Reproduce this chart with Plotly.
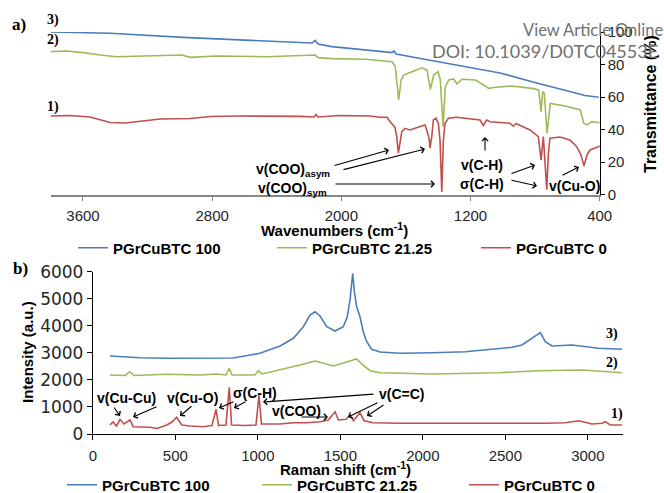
import plotly.graph_objects as go

W, H = 664, 493

# ---------------- (a) FTIR data ----------------
ftir_wn_100 = [3800, 3432, 2980, 2565, 2181, 2163, 2144, 2058, 1686, 1674, 1661, 1451, 1232, 1017, 819, 613, 491, 406]
ftir_t_100 = [100.0, 99.2, 96.7, 95.1, 93.2, 94.8, 92.6, 91.0, 87.3, 88.3, 86.5, 82.6, 78.6, 74.8, 69.4, 63.9, 60.9, 59.8]

ftir_wn_2125 = [3800, 3700, 3598, 3494, 3391, 3185, 2988, 2937, 2772, 2462,
                2163, 2142, 2060, 1851, 1686, 1666, 1645, 1630, 1614, 1562,
                1500, 1469, 1449, 1428, 1401, 1387, 1370, 1356, 1335, 1304,
                1284, 1253, 1170, 1118, 1087, 1046, 943, 819, 778, 763,
                753, 743, 726, 706, 613, 520, 499, 479, 448, 406, 400]
ftir_t_2125 = [87.9, 88.3, 87.3, 85.8, 84.8, 85.2, 85.8, 84.4, 85.2, 84.8,
               85.8, 84.2, 83.6, 83.2, 81.7, 78.6, 58.2, 70.5, 73.5, 75.6,
               78.0, 76.6, 64.7, 73.5, 75.6, 70.5, 41.7, 66.3, 70.5, 71.1,
               68.0, 70.9, 70.5, 67.4, 65.3, 66.0, 66.8, 65.3, 64.3, 51.0,
               63.3, 62.3, 37.7, 56.1, 54.5, 52.0, 43.8, 42.8, 44.8, 44.2, 44.5]

ftir_wn_0 = [3800, 3680, 3556, 3494, 3432, 3339, 3246, 3122, 2937, 2812,
             2627, 2441, 2256, 2169, 2157, 2145, 2008, 1822, 1760, 1717,
             1698, 1668, 1657, 1647, 1637, 1626, 1606, 1575, 1544, 1513,
             1482, 1471, 1457, 1451, 1440, 1430, 1414, 1399, 1389, 1378,
             1368, 1358, 1337, 1285, 1224, 1141, 1121, 1100, 1079, 1017,
             955, 935, 918, 832, 780, 763, 749, 728, 718, 708,
             646, 584, 542, 516, 497, 479, 460, 429, 408, 400]
ftir_t_0 = [48.3, 48.6, 47.7, 46.2, 44.3, 44.0, 45.2, 46.5, 46.8, 48.0,
            48.3, 48.3, 48.1, 47.7, 49.2, 47.7, 48.6, 48.3, 47.5, 47.5,
            44.8, 41.4, 35.6, 25.5, 33.5, 38.6, 40.7, 39.7, 40.7, 41.7,
            42.8, 39.7, 34.6, 28.5, 35.6, 45.8, 46.9, 43.8, 33.5, 1.5,
            33.5, 43.8, 46.9, 47.5, 46.9, 45.8, 42.5, 45.8, 44.8, 44.3,
            43.8, 42.0, 43.7, 39.7, 35.6, 21.2, 35.6, 3.0, 25.0, 34.6,
            35.4, 33.5, 29.4, 24.3, 17.5, 24.3, 27.4, 28.6, 29.4, 30.2]

ftir_ticks = [3600, 2800, 2000, 1200, 400]

# ---------------- (b) Raman data ----------------
raman_rs_100 = [104, 286, 448, 650, 850, 1013, 1135, 1215, 1276, 1316,
                1347, 1377, 1418, 1468, 1518, 1542, 1559, 1575, 1585, 1599,
                1619, 1639, 1660, 1690, 1741, 1862, 1983, 2056, 2258, 2419,
                2541, 2601, 2661, 2712, 2742, 2783, 2904, 2985, 3066, 3207]
raman_i_100 = [2884, 2821, 2798, 2791, 2810, 2983, 3253, 3538, 3967, 4399,
               4521, 4362, 3967, 3808, 3967, 4336, 4954, 5941, 5261, 4706,
               4336, 3782, 3412, 3131, 3031, 2983, 2983, 3006, 3043, 3131,
               3205, 3290, 3536, 3746, 3413, 3253, 3290, 3228, 3168, 3131]

raman_rs_2125 = [104, 195, 225, 250, 448, 650, 751, 807, 827, 844,
                 983, 1003, 1025, 1135, 1256, 1347, 1418, 1458, 1498, 1569,
                 1599, 1630, 1680, 1741, 1983, 2056, 2460, 2702, 2965, 3207]
raman_i_2125 = [2181, 2163, 2303, 2163, 2207, 2181, 2218, 2181, 2429, 2181,
                2181, 2340, 2220, 2366, 2551, 2699, 2588, 2514, 2588, 2699,
                2773, 2588, 2340, 2266, 2244, 2218, 2266, 2340, 2366, 2266]

raman_rs_0 = [104, 122, 144, 165, 189, 225, 245, 286, 347, 389,
              448, 480, 508, 539, 589, 668, 722, 747, 762, 807,
              827, 841, 922, 989, 1007, 1022, 1135, 1215, 1296, 1377,
              1427, 1468, 1488, 1535, 1559, 1579, 1619, 1644, 1700, 1862,
              2056, 2460, 2742, 2864, 2945, 3025, 3086, 3106, 3136, 3207]
raman_i_0 = [333, 444, 296, 543, 370, 518, 270, 259, 248, 203,
             333, 444, 617, 333, 296, 270, 314, 913, 314, 333,
             1726, 333, 314, 333, 1442, 370, 370, 418, 418, 455,
             518, 824, 518, 543, 702, 492, 787, 492, 418, 395,
             395, 370, 395, 418, 492, 370, 395, 455, 333, 333]

series_names = ["PGrCuBTC 100", "PGrCuBTC 21.25", "PGrCuBTC 0"]
series_colors = ["#4A7EBB", "#9BBB59", "#C0504D"]

SANS = "Liberation Sans, Arial, sans-serif"
SERIF = "Liberation Serif, Times New Roman, serif"


def PX(x):
    return x / W


def PY(y):
    return 1 - y / H


fig = go.Figure()

ftir_sets = [(ftir_wn_100, ftir_t_100), (ftir_wn_2125, ftir_t_2125), (ftir_wn_0, ftir_t_0)]
raman_sets = [(raman_rs_100, raman_i_100), (raman_rs_2125, raman_i_2125), (raman_rs_0, raman_i_0)]

for i, (xs, ys) in enumerate(ftir_sets):
    fig.add_trace(go.Scatter(x=xs, y=ys, mode="lines", name=series_names[i],
                             line=dict(color=series_colors[i], width=1.6),
                             xaxis="x", yaxis="y", showlegend=True,
                             legend="legend" if i == 0 else f"legend{i + 1}"))
for i, (xs, ys) in enumerate(raman_sets):
    fig.add_trace(go.Scatter(x=xs, y=ys, mode="lines", name=series_names[i],
                             line=dict(color=series_colors[i], width=1.6),
                             xaxis="x2", yaxis="y2", showlegend=True,
                             legend=f"legend{i + 4}"))

legend_font = dict(family=SANS, size=15, color="#000000", weight="bold")


def leg(text_x, y):
    return dict(x=PX(text_x - 40), y=PY(y), xanchor="left", yanchor="middle",
                orientation="h", bgcolor="rgba(0,0,0,0)", borderwidth=0,
                font=legend_font, itemwidth=30, visible=True)


tickfont = dict(family=SANS, size=15, color="#262626")
axcommon = dict(showgrid=False, zeroline=False, showline=True, ticks="outside",
                tickfont=tickfont, fixedrange=True)

fig.update_layout(
    width=W, height=H, margin=dict(l=0, r=0, t=0, b=0, pad=0, autoexpand=False),
    paper_bgcolor="white", plot_bgcolor="white", showlegend=True,
    xaxis=dict(axcommon, domain=[PX(50.7), PX(599.7)], range=[3800, 400],
               tickvals=ftir_ticks, anchor="y", linecolor="#868686", linewidth=1.5,
               tickcolor="#868686", ticklen=5, ticklabelstandoff=2),
    yaxis=dict(axcommon, domain=[PY(194.5), PY(32)], range=[0, 100], dtick=20,
               side="right", anchor="x", linecolor="#000000", linewidth=1,
               tickcolor="#000000", ticklen=4),
    xaxis2=dict(axcommon, domain=[PX(92.8), PX(623)], range=[0, 3213], dtick=500,
                anchor="y2", linecolor="#000000", linewidth=1, tickcolor="#000000",
                ticklen=5, ticklabelstandoff=3),
    yaxis2=dict(axcommon, domain=[PY(434), PY(271.7)], range=[0, 6000], dtick=1000,
                anchor="x2", linecolor="#000000", linewidth=1, tickcolor="#000000",
                ticklen=5, tickfont=dict(family="DejaVu Sans, sans-serif", size=17, color="#262626")),
    legend=leg(113, 248), legend2=leg(312, 248), legend3=leg(516, 248),
    legend4=leg(102, 485), legend5=leg(297, 485), legend6=leg(504, 485),
)

ann = []


def text(t, x, y, size=14, family=SANS, angle=0, color="#000000", xanchor="center"):
    ann.append(dict(text=t, x=PX(x), y=PY(y), xref="paper", yref="paper",
                    xanchor=xanchor, yanchor="middle", showarrow=False, textangle=angle,
                    font=dict(family=family, size=size, color=color)))


def arrow(tx, ty, hx, hy):
    ann.append(dict(text="", x=PX(hx), y=PY(hy), xref="paper", yref="paper",
                    ax=tx - hx, ay=ty - hy, axref="pixel", ayref="pixel",
                    showarrow=True, arrowhead=4, arrowsize=1.1, arrowwidth=1.1,
                    arrowcolor="#000000", standoff=0, startstandoff=0))


# axis titles
text("<b>Wavenumbers (cm<sup>-1</sup>)</b>", 335, 229, size=15)
text("<b>Transmittance (%)</b>", 650, 104, size=16, angle=-90)
text("<b>Intensity (a.u.)</b>", 27, 352, size=15, angle=-90)
text("<b>Raman shift (cm<sup>-1</sup>)</b>", 345, 468, size=15)

# panel labels and series numbers
text("<b>a)</b>", 19, 25, size=17, family=SERIF)
text("<b>b)</b>", 20, 268, size=17, family=SERIF)
text("<b>3)</b>", 53, 20, size=14, family=SERIF)
text("<b>2)</b>", 53, 40, size=14, family=SERIF)
text("<b>1)</b>", 53, 107, size=14, family=SERIF)
text("<b>3)</b>", 612, 334, size=14, family=SERIF)
text("<b>2)</b>", 612, 363, size=14, family=SERIF)
text("<b>1)</b>", 617, 414, size=14, family=SERIF)

# FTIR band assignments
text("<b>v(COO)<sub>asym</sub></b>", 293, 170)
text("<b>v(COO)<sub>sym</sub></b>", 292, 189)
text("<b>v(C-H)</b>", 482, 165)
text("<b>σ(C-H)</b>", 482, 184)
text("<b>v(Cu-O)</b>", 574, 186)
arrow(333, 166, 389, 150)
arrow(342, 170, 425, 149)
arrow(334, 184, 435, 184)
arrow(485, 152, 485, 137)
arrow(510, 174, 535, 165)
arrow(510, 180, 537, 186)
arrow(561, 176, 579, 167)

# Raman band assignments
text("<b>v(Cu-Cu)</b>", 126, 398)
text("<b>v(Cu-O)</b>", 192, 398)
text("<b>σ(C-H)</b>", 255, 393)
text("<b>v(C=C)</b>", 402, 394)
text("<b>v(COO)</b>", 296, 411)
arrow(113, 406, 120, 416)
arrow(158, 406, 133, 417)
arrow(193, 405, 180, 416)
arrow(235, 401, 219, 408)
arrow(247, 401, 234, 408)
arrow(375, 394, 263, 402)
arrow(379, 402, 348, 417)
arrow(385, 404, 367, 416)
arrow(300, 417, 328, 417)

# journal watermark
text("View Article Online", 521, 30, size=16.5, family="Lato, sans-serif", color="#707070", xanchor="left")
text("DOI: 10.1039/D0TC04553E", 430, 51, size=18, family="Lato, sans-serif", color="#707070", xanchor="left")

fig.update_layout(annotations=ann)
# remove the browser's default 8px page margin so the 664x493 figure fills the window
fig.write_html("out.html", config={"displayModeBar": False},
               post_script="document.body.style.margin='0px';")
